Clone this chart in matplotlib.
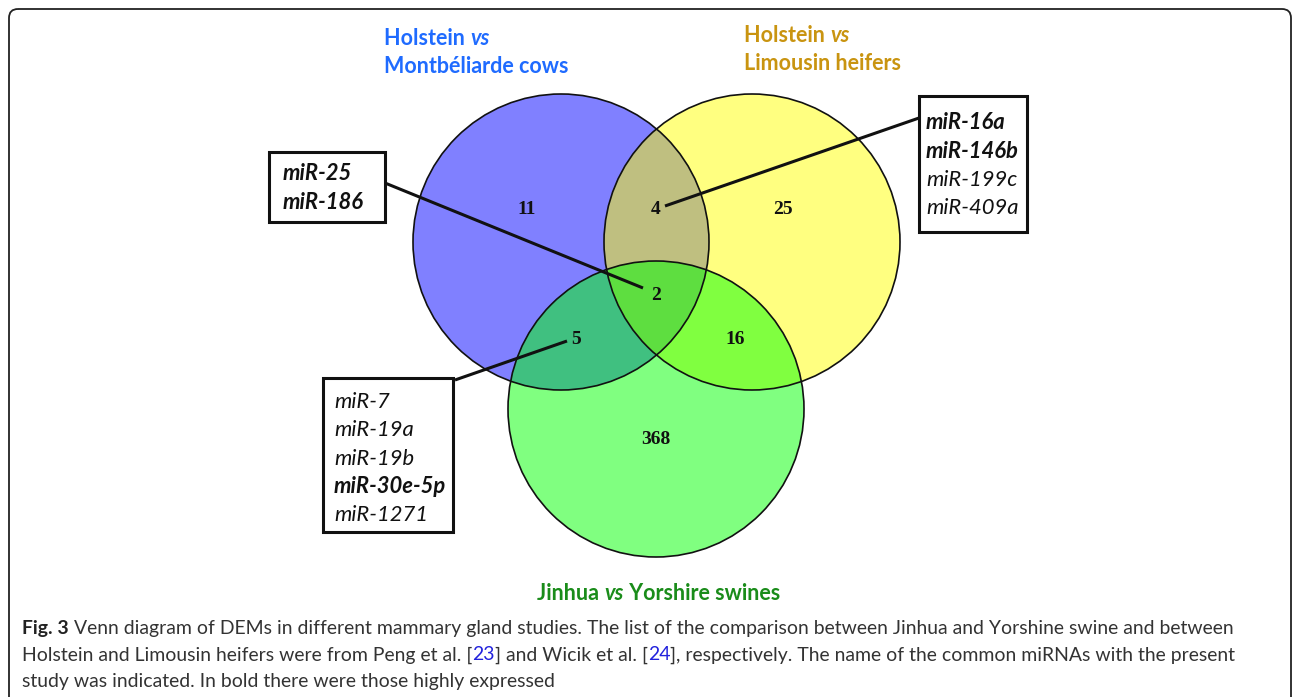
import numpy as np
import matplotlib
matplotlib.use("Agg")
import matplotlib.pyplot as plt
from matplotlib.patches import Circle, Polygon, Rectangle, FancyBboxPatch

# region counts
counts_labels = ["11", "25", "368", "4", "5", "16", "2"]
# miRNA lists (name, bold)
box_2 = [("miR-25", True), ("miR-186", True)]
box_4 = [("miR-16a", True), ("miR-146b", True), ("miR-199c", False), ("miR-409a", False)]
box_5 = [("miR-7", False), ("miR-19a", False), ("miR-19b", False), ("miR-30e-5p", True), ("miR-1271", False)]

set_names = ["Holstein vs Montbéliarde cows", "Holstein vs Limousin heifers", "Jinhua vs Yorshire swines"]

caption = [
    [("Fig. 3", "bold"), (" Venn diagram of DEMs in different mammary gland studies. The list of the comparison between Jinhua and Yorshine swine and between", "normal")],
    [("Holstein and Limousin heifers were from Peng et al. [", "normal"), ("23", "link"), ("] and Wicik et al. [", "normal"), ("24", "link"), ("], respectively. The name of the common miRNAs with the present", "normal")],
    [("study was indicated. In bold there were those highly expressed", "normal")],
]

W, H = 1293, 697
fig = plt.figure(figsize=(W / 100, H / 100), dpi=100)
ax = fig.add_axes([0, 0, 1, 1])
ax.set_xlim(0, W)
ax.set_ylim(H, 0)
ax.axis("off")

FONT = "Lato"
NUMFONT = "Liberation Serif"

# outer frame
frame = FancyBboxPatch((9, 9), 1282, 700, boxstyle="round,pad=0,rounding_size=9",
                       fc="none", ec="#222222", lw=1.3, zorder=0)
ax.add_patch(frame)

# circles
cB = (561, 242); cY = (752, 242); cG = (656, 409); r = 148
cols = {"B": "#8080ff", "Y": "#ffff80", "G": "#80ff80",
        "BY": "#bfbf80", "BG": "#40c080", "YG": "#80ff40", "BYG": "#5ede40"}


def circle_pts(c, rr, n=720):
    t = np.linspace(0, 2 * np.pi, n, endpoint=False)
    return np.column_stack([c[0] + rr * np.cos(t), c[1] + rr * np.sin(t)])


def lens(c1, c2, rr):
    p1 = circle_pts(c1, rr)
    p2 = circle_pts(c2, rr)
    a = p1[np.hypot(p1[:, 0] - c2[0], p1[:, 1] - c2[1]) <= rr]
    b = p2[np.hypot(p2[:, 0] - c1[0], p2[:, 1] - c1[1]) <= rr]
    pts = np.vstack([a, b])
    m = pts.mean(axis=0)
    ang = np.arctan2(pts[:, 1] - m[1], pts[:, 0] - m[0])
    return pts[np.argsort(ang)]


for c, k in [(cB, "B"), (cY, "Y"), (cG, "G")]:
    ax.add_patch(Circle(c, r, fc=cols[k], ec="none", zorder=1))
for (c1, c2, k) in [(cB, cY, "BY"), (cB, cG, "BG"), (cY, cG, "YG")]:
    ax.add_patch(Polygon(lens(c1, c2, r), closed=True, fc=cols[k], ec="none", zorder=2))
byl = Polygon(lens(cB, cY, r), closed=True, fc="none", ec="none")
ax.add_patch(byl)
tri = Circle(cG, r, fc=cols["BYG"], ec="none", zorder=3)
ax.add_patch(tri)
tri.set_clip_path(byl)
for c in [cB, cY, cG]:
    ax.add_patch(Circle(c, r, fc="none", ec="#111111", lw=1.2, zorder=4))

# counts
count_pos = [(527, 210), (783, 210), (656, 439), (656, 210), (576, 340), (735, 340), (656, 296)]
for lab, (x, y) in zip(counts_labels, count_pos):
    ax.text(x, y, lab, fontfamily=NUMFONT, fontweight="bold", fontsize=14,
            ha="center", va="center", color="#111111", zorder=6)


def draw_pieces(x, y, pieces, size, fam=FONT, **kw):
    fig.canvas.draw()
    rend = fig.canvas.get_renderer()
    for s, st in pieces:
        t = ax.text(x, y, s, fontfamily=fam, fontsize=size, va="baseline", ha="left", **st, **kw)
        w = t.get_window_extent(renderer=rend).width
        x += w
    return x


# set titles
blue, gold, green = "#1f6bff", "#c99410", "#1a8c1a"
bstyle = {"fontweight": "bold"}
istyle = {"fontweight": "bold", "fontstyle": "italic"}
TS = 15.5
draw_pieces(384, 45, [("Holstein ", {**bstyle, "color": blue}), ("vs", {**istyle, "color": blue})], TS)
draw_pieces(384, 73, [("Montbéliarde cows", {**bstyle, "color": blue})], TS)
draw_pieces(744, 42, [("Holstein ", {**bstyle, "color": gold}), ("vs", {**istyle, "color": gold})], TS)
draw_pieces(744, 70, [("Limousin heifers", {**bstyle, "color": gold})], TS)
draw_pieces(537, 600, [("Jinhua ", {**bstyle, "color": green}), ("vs", {**istyle, "color": green}),
                       (" Yorshire swines", {**bstyle, "color": green})], TS)


# miRNA boxes with connectors
def mir_box(x0, y0, x1, y1, items, tx, ty0, dy, line_from, line_to):
    ax.add_patch(Rectangle((x0, y0), x1 - x0, y1 - y0, fc="white", ec="#111111", lw=2.2, zorder=7))
    for i, (name, b) in enumerate(items):
        ax.text(tx, ty0 + i * dy, name, fontfamily=FONT, fontsize=15.8, fontstyle="italic",
                fontweight="bold" if b else "normal", color="#111111", va="baseline", zorder=8)
    ax.plot([line_from[0], line_to[0]], [line_from[1], line_to[1]], color="#111111", lw=2.2,
            solid_capstyle="butt", zorder=5)


mir_box(269, 152, 385, 222, box_2, 283, 180, 29, (385, 183), (643, 288))
mir_box(919, 96, 1027, 232, box_4, 926, 129, 28.5, (919, 118), (665, 206))
mir_box(323, 378, 453, 532, box_5, 334, 408, 28.3, (455, 380), (567, 341))

# caption
cap_styles = {"bold": {"fontweight": "bold", "color": "#222222"},
              "normal": {"color": "#333333"},
              "link": {"color": "#2222dd"}}
for i, line in enumerate(caption):
    draw_pieces(22, 634 + i * 26.5, [(s, cap_styles[k]) for s, k in line], 13.95)

fig.savefig("out.png", dpi=100)
